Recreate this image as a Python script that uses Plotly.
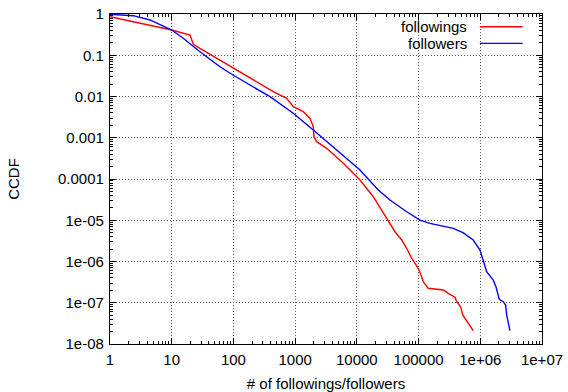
import plotly.graph_objects as go

# followings (red)
followings_x = [1, 10, 19.8, 21.1, 22.4, 28.7, 60.5, 98.4, 207, 269, 443, 729, 933, 1355,
                1738, 1968, 2018, 2234, 3243, 6026, 11246, 18450, 32290, 41500, 53200, 64100,
                77300, 98800, 112200, 119100, 143600, 251200, 302700, 389000, 414000,
                480800, 518800, 769100]
followings_y = [0.86, 0.409, 0.310, 0.234, 0.184, 0.147, 0.0767, 0.0483, 0.0265, 0.0209,
                0.0131, 0.00904, 0.00566, 0.00429, 0.00296, 0.00185, 0.00106, 0.000802,
                0.000555, 0.000240, 9.46e-5, 3.72e-5, 1.01e-5, 5.27e-6, 3.32e-6, 2.09e-6,
                1.20e-6, 6.84e-7, 4.28e-7, 3.24e-7, 2.24e-7, 2.04e-7, 1.69e-7, 1.36e-7,
                1.06e-7, 8.02e-8, 5.05e-8, 2.10e-8]

# followers (blue)
followers_x = [1, 2.39, 4.45, 10, 15.4, 28.7, 60.5, 98.4, 391, 933, 1968, 3243, 11246,
               22230, 34430, 64100, 105400, 153100, 364800, 524800, 769100, 988500,
               1117000, 1268000, 1622000, 1795000, 2032000, 2355000, 2576000, 2673000,
               3027000]
followers_y = [0.984, 0.910, 0.716, 0.409, 0.258, 0.122, 0.0527, 0.0332, 0.00989, 0.00392,
               0.00154, 0.000802, 0.000165, 5.41e-5, 3.10e-5, 1.61e-5, 1.01e-5, 8.43e-6,
               6.38e-6, 4.99e-6, 3.32e-6, 1.90e-6, 9.89e-7, 5.66e-7, 3.56e-7, 2.45e-7,
               1.21e-7, 1.06e-7, 8.81e-8, 5.05e-8, 2.10e-8]

x_tickvals = [1, 10, 100, 1000, 10000, 100000, 1e6, 1e7]
x_ticktext = ["1", "10", "100", "1000", "10000", "100000", "1e+06", "1e+07"]
y_tickvals = [1, 0.1, 0.01, 0.001, 0.0001, 1e-5, 1e-6, 1e-7, 1e-8]
y_ticktext = ["1", "0.1", "0.01", "0.001", "0.0001", "1e-05", "1e-06", "1e-07", "1e-08"]

series_names = ["followings", "followers"]
series_colors = ["#ff0000", "#0000ff"]

FONT = "Liberation Sans, Arial, Helvetica, sans-serif"

fig = go.Figure()
fig.add_trace(go.Scatter(x=followings_x, y=followings_y, mode="lines",
                         line=dict(color=series_colors[0], width=1.4),
                         name=series_names[0], showlegend=False))
fig.add_trace(go.Scatter(x=followers_x, y=followers_y, mode="lines",
                         line=dict(color=series_colors[1], width=1.4),
                         name=series_names[1], showlegend=False))

axis_common = dict(
    showline=True, linecolor="black", linewidth=1.2, mirror="allticks",
    ticks="inside", ticklen=6, tickcolor="black", tickwidth=1,
    showgrid=True, gridcolor="#555555", griddash="1px,2px", gridwidth=1,
    zeroline=False, automargin=False, ticklabeloverflow="allow",
    tickfont=dict(family=FONT, size=15, color="black"),
    minor=dict(dtick="D1", ticks="inside", ticklen=3, tickcolor="black", showgrid=False),
)

fig.update_xaxes(type="log", range=[0, 7], tickvals=x_tickvals, ticktext=x_ticktext,
                 ticklabelstandoff=2,
                 title=dict(text="# of followings/followers",
                            font=dict(family=FONT, size=15, color="black"), standoff=11),
                 **axis_common)
fig.update_yaxes(type="log", range=[-8, 0], tickvals=y_tickvals, ticktext=y_ticktext,
                 ticklabelstandoff=2,
                 title=dict(text="CCDF", font=dict(family=FONT, size=15, color="black"),
                            standoff=34),
                 **axis_common)

# legend drawn gnuplot-style (text right, sample line on the right)
legend_y = [0.9615, 0.911]
for i, name in enumerate(series_names):
    fig.add_annotation(x=0.831, y=legend_y[i], xref="paper", yref="paper",
                       text=name, showarrow=False, xanchor="right", yanchor="middle",
                       font=dict(family=FONT, size=15, color="black"))
    fig.add_shape(type="line", xref="paper", yref="paper",
                  x0=0.856, x1=0.955, y0=legend_y[i], y1=legend_y[i],
                  line=dict(color=series_colors[i], width=1.4))

fig.update_layout(
    width=568, height=392,
    margin=dict(l=110, r=26, t=14, b=48),
    paper_bgcolor="white", plot_bgcolor="white",
    font=dict(family=FONT, size=15, color="black"),
)

# remove the page's default body margin so the figure fills the window exactly
fig.write_html("out.html",
               config={"displayModeBar": False},
               post_script="document.body.style.margin='0';document.body.style.overflow='hidden';")
